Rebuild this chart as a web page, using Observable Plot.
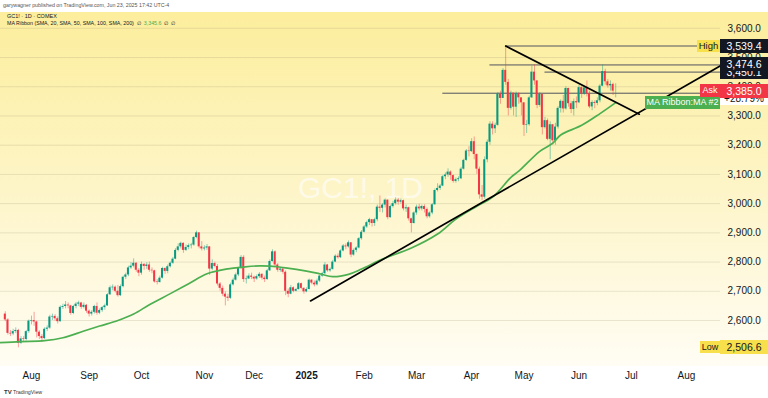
<!DOCTYPE html>
<html><head><meta charset="utf-8">
<script src="https://cdn.jsdelivr.net/npm/d3@7"></script>
<script src="https://cdn.jsdelivr.net/npm/@observablehq/plot@0.6"></script>
<style>
html,body{margin:0;padding:0;background:#fff;}
#wrap{position:relative;width:768px;height:398px;overflow:hidden;font-family:"Liberation Sans",Arial,sans-serif;
 background:linear-gradient(to bottom,#fff 0px,#fff 12px,#fcee9c 12px,#fdf5c8 190px,#fffdf4 366px,#fff 366px,#fff 398px);}
#wrap svg{position:absolute;left:0;top:0;background:transparent;}
.ov{position:absolute;white-space:nowrap;color:#131722;}
.box{position:absolute;box-sizing:border-box;text-align:center;white-space:nowrap;overflow:hidden;}
</style></head><body><div id="wrap"></div>
<script>
// ---- data (daily candles, 18 Jul 2024 .. 23 Jun 2025) ----
const firstOpen = 2622;
const close = [
2602,2556,2554,2562,2566,2522,2537,2535,2562,2598,
2600,2595,2560,2545,2538,2570,2574,2612,2614,2606,
2596,2645,2648,2653,2650,2624,2648,2656,2660,2645,
2652,2632,2622,2628,2648,2625,2634,2644,2650,2688,
2712,2714,2700,2685,2716,2748,2756,2780,2786,2796,
2772,2762,2792,2785,2790,2772,2770,2732,2730,2745,
2778,2768,2784,2796,2810,2840,2852,2864,2840,2850,
2856,2858,2884,2900,2852,2845,2848,2852,2776,2795,
2785,2725,2710,2690,2680,2676,2722,2738,2756,2778,
2816,2740,2742,2752,2748,2742,2750,2758,2745,2740,
2770,2802,2835,2790,2772,2776,2765,2700,2690,2712,
2700,2706,2726,2710,2698,2706,2738,2728,2722,2735,
2752,2760,2790,2770,2775,2800,2820,2815,2838,2855,
2852,2866,2824,2840,2848,2880,2902,2920,2935,2945,
2932,2945,2988,2984,2995,3012,2952,2990,3000,3012,
3005,3010,2982,2986,2948,2932,2968,2988,2982,2990,
2980,2955,2968,2996,3045,3052,3060,3092,3098,3108,
3096,3076,3082,3085,3118,3148,3180,3178,3212,3168,
3118,3030,3022,3150,3210,3272,3256,3268,3375,3360,
3456,3415,3326,3378,3330,3376,3362,3345,3268,3270,
3362,3450,3420,3336,3374,3260,3284,3220,3270,3215,
3262,3326,3350,3324,3394,3342,3322,3349,3345,3397,
3375,3396,3376,3331,3346,3343,3352,3402,3452,3417,
3403,3408,3385,3385];
const high = [
2630,2606,2566,2570,2575,2570,2545,2545,2566,2602,
2615,2628,2598,2565,2552,2575,2582,2618,2622,2620,
2612,2650,2656,2665,2660,2652,2652,2662,2666,2662,
2660,2655,2636,2634,2652,2660,2640,2648,2656,2692,
2718,2722,2718,2720,2722,2752,2762,2786,2798,2811,
2798,2778,2800,2795,2798,2800,2780,2772,2740,2752,
2782,2780,2790,2800,2816,2846,2862,2868,2866,2858,
2862,2864,2888,2906,2900,2870,2856,2860,2852,2808,
2800,2792,2730,2718,2698,2690,2728,2745,2762,2782,
2822,2822,2752,2760,2762,2752,2756,2764,2760,2752,
2775,2808,2842,2838,2795,2782,2780,2770,2708,2720,
2715,2710,2730,2728,2712,2712,2742,2740,2735,2742,
2756,2765,2798,2792,2780,2806,2825,2828,2842,2860,
2862,2872,2862,2845,2852,2884,2908,2925,2940,2950,
2945,2950,2995,3026,3000,3016,3012,2995,3008,3020,
3018,3016,3012,2995,2988,2950,2972,2995,2998,2995,
2996,2985,2972,3000,3050,3068,3066,3096,3105,3119,
3112,3098,3088,3092,3124,3152,3185,3195,3222,3228,
3170,3125,3062,3160,3218,3280,3280,3275,3380,3385,
3462,3539.4,3425,3385,3372,3382,3380,3362,3345,3285,
3368,3470,3475,3420,3380,3360,3295,3290,3280,3270,
3275,3332,3355,3370,3400,3395,3350,3358,3365,3405,
3400,3402,3420,3385,3352,3352,3362,3408,3474,3460,
3425,3420,3412,3410];
const low = [
2596,2550,2545,2548,2555,2506.6,2518,2525,2530,2556,
2585,2580,2540,2535,2525,2535,2562,2570,2600,2598,
2588,2594,2638,2640,2640,2618,2620,2640,2648,2638,
2640,2625,2612,2615,2622,2618,2620,2628,2635,2648,
2686,2702,2694,2680,2682,2712,2740,2750,2775,2780,
2765,2750,2755,2772,2775,2765,2760,2728,2722,2728,
2742,2758,2760,2780,2792,2808,2835,2845,2830,2836,
2842,2845,2854,2880,2845,2838,2838,2840,2754,2770,
2780,2718,2700,2682,2650,2665,2672,2718,2735,2750,
2775,2730,2725,2740,2740,2730,2738,2744,2738,2730,
2738,2768,2800,2785,2765,2765,2758,2685,2678,2688,
2695,2698,2704,2705,2690,2695,2705,2722,2715,2718,
2730,2748,2758,2765,2765,2772,2798,2810,2812,2835,
2842,2848,2815,2820,2832,2845,2875,2900,2915,2925,
2920,2922,2938,2970,2968,2985,2945,2950,2985,2995,
2995,2998,2975,2970,2940,2900,2930,2960,2975,2975,
2968,2948,2950,2962,2995,3040,3045,3058,3082,3090,
3080,3070,3070,3075,3082,3115,3145,3160,3175,3150,
3100,3015,3010,3015,3140,3200,3235,3240,3265,3340,
3360,3405,3300,3320,3300,3295,3340,3300,3230,3240,
3265,3360,3405,3325,3330,3235,3255,3215,3150,3200,
3200,3255,3310,3310,3320,3330,3308,3300,3325,3342,
3360,3370,3365,3325,3318,3325,3335,3345,3400,3405,
3395,3385,3370,3362];

// MA Ribbon : MA #2 (green), read at sampled bars
const maIdx = [-2,6,15,22,30,36,43,49,55,63,70,77,85,91,97,101,107,115,120,125,131,136,144,155,165,172,180,186,193,196,204,209,212,220,227,233];
const maVal = [2524,2528,2531,2541,2564,2581,2600,2622,2654,2692,2726,2760,2777,2783,2787,2786,2780,2769,2760,2750,2758,2776,2810,2848,2896,2947,2991,3022,3090,3111,3179,3207,3235,3268,3308,3345.6];

// drawings
const rayLevels = [3539.4, 3474.6, 3450.1, 3377.9];
const rayStartIdx = [191, 185, 206, 167];
const upTrendIdx = [116.5, 273];
const upTrendVal = [2667, 3472];
const downTrendIdx = [191, 242];
const downTrendVal = [3539.4, 3306];

// axes
const monthTickIdx = [10,32,52,76,95,115,137,157,178,198,219,239,260];
const monthTickLabels = ["Aug","Sep","Oct","Nov","Dec","2025","Feb","Mar","Apr","May","Jun","Jul","Aug"];
const priceTicks = [2600,2700,2800,2900,3000,3100,3200,3300,3400,3500,3600];

// right-axis tags
const askPrice = 3385.0;
const maLast = 3345.6;
const maPctText = "+28.79%";

// ---- build ----
const UP = "#089981", DOWN = "#f23645";
const candles = close.map((c, i) => {
  const o = i === 0 ? firstOpen : close[i - 1];
  return {i, o, c, h: Math.max(high[i], o, c), l: Math.min(low[i], o, c), up: c >= o};
});
const ma = maIdx.map((x, k) => ({x, y: maVal[k]}));
const rays = rayLevels.map((v, k) => ({v, x1: rayStartIdx[k]}));
const upT = upTrendIdx.map((x, k) => ({x, y: upTrendVal[k]}));
const dnT = downTrendIdx.map((x, k) => ({x, y: downTrendVal[k]}));
const months = monthTickIdx.map((x, k) => ({x, t: monthTickLabels[k]}));
const xMax = 273;

const plot = Plot.plot({
  width: 768, height: 398,
  marginTop: 12, marginBottom: 32, marginLeft: 0, marginRight: 48,
  style: {background: "transparent", color: "#131722", fontFamily: "Liberation Sans, Arial, sans-serif"},
  x: {domain: [-1.83, xMax], axis: null},
  y: {domain: [2442.6, 3654.1], axis: null},
  marks: [
    Plot.gridY(priceTicks, {stroke: "#9c9170", strokeOpacity: 0.22}),
    Plot.text(["GC1!, 1D"], {frameAnchor: "middle", fontSize: 30, fill: "white", fillOpacity: 0.62, dy: -1}),
    Plot.ruleY(rays, {y: "v", x1: "x1", x2: xMax, stroke: "#50535e", strokeWidth: 1}),
    Plot.ruleX(candles, {x: "i", y1: "l", y2: "h", stroke: d => d.up ? UP : DOWN, strokeOpacity: 0.45, strokeWidth: 1}),
    Plot.rect(candles, {x1: d => d.i - 0.38, x2: d => d.i + 0.38, y1: "o", y2: "c", fill: d => d.up ? UP : DOWN}),
    Plot.line(ma, {x: "x", y: "y", stroke: "#4caf50", strokeWidth: 1.7, curve: "catmull-rom"}),
    Plot.line(upT, {x: "x", y: "y", stroke: "#000", strokeWidth: 1.7}),
    Plot.line(dnT, {x: "x", y: "y", stroke: "#000", strokeWidth: 1.7}),
    Plot.axisY(priceTicks, {anchor: "right", tickSize: 0, tickPadding: 7, tickFormat: d3.format(",.1f"), fontSize: 10, textAnchor: "start"}),
    Plot.text(months.filter(d => d.t !== "2025"), {x: "x", text: "t", frameAnchor: "bottom", dy: 12, fontSize: 10, fill: "#131722"}),
    Plot.text(months.filter(d => d.t === "2025"), {x: "x", text: "t", frameAnchor: "bottom", dy: 12, fontSize: 10, fontWeight: "bold", fill: "#131722"})
  ]
});
const wrap = document.getElementById("wrap");
wrap.appendChild(plot);

const ys = plot.scale("y");
const yp = v => ys.apply(v);
function box(left, width, center, h, text, bg, fg, fs, extra) {
  const d = document.createElement("div");
  d.className = "box";
  d.style.left = left + "px"; d.style.width = width + "px";
  d.style.top = (center - h / 2) + "px"; d.style.height = h + "px";
  d.style.lineHeight = h + "px"; d.style.background = bg; d.style.color = fg;
  d.style.fontSize = fs + "px";
  if (extra) Object.assign(d.style, extra);
  d.textContent = text;
  wrap.appendChild(d);
}
const fmt = d3.format(",.1f");
const hi = d3.max(high), lo = d3.min(low);
// ray labels
box(720, 48, yp(rayLevels[2]), 14, fmt(rayLevels[2]), "#131722", "#fff", 10.5);
box(720, 48, yp(rayLevels[1]), 14, fmt(rayLevels[1]), "#131722", "#fff", 10.5);
box(697, 23, yp(hi), 12, "High", "#f7e04b", "#131722", 9.5);
box(720, 48, yp(hi), 14, fmt(hi), "#131722", "#fff", 10.5);
// MA label
box(645, 75, yp(maLast), 13, "MA Ribbon:MA #2", "#4caf50", "#fff", 9);
box(720, 48, yp(maLast) - 4, 13, maPctText, "#fff", "#131722", 10);
// Ask
box(700, 20, yp(askPrice), 13, "Ask", "#f23645", "#fff", 9);
box(720, 48, yp(askPrice), 14, fmt(askPrice), "#f23645", "#fff", 10.5);
// Low
box(700, 20, yp(lo), 12, "Low", "#f7e04b", "#131722", 9);
box(720, 48, yp(lo), 14, fmt(lo), "#f7e04b", "#131722", 10.5);

function ov(left, top, html, fs, color) {
  const d = document.createElement("div");
  d.className = "ov";
  d.style.left = left + "px"; d.style.top = top + "px";
  d.style.fontSize = fs + "px"; d.style.lineHeight = fs + "px";
  if (color) d.style.color = color;
  d.innerHTML = html;
  wrap.appendChild(d);
}
ov(3, 2.5, "garywagner published on TradingView.com, Jun 23, 2025 17:42 UTC-4", 5.3, "#555");
ov(7, 13.5, "GC1! · 1D · COMEX", 5.5);
ov(7, 20.5, "MA Ribbon (SMA, 20, SMA, 50, SMA, 100, SMA, 200) &nbsp;∅ &nbsp;<span style='color:#4caf50'>" + fmt(maLast) + "</span> &nbsp;∅ &nbsp;∅", 5.3);
ov(4, 389.5, "<b style='font-size:6px'>TV</b> TradingView", 5.3, "#333");
</script>
</body></html>
